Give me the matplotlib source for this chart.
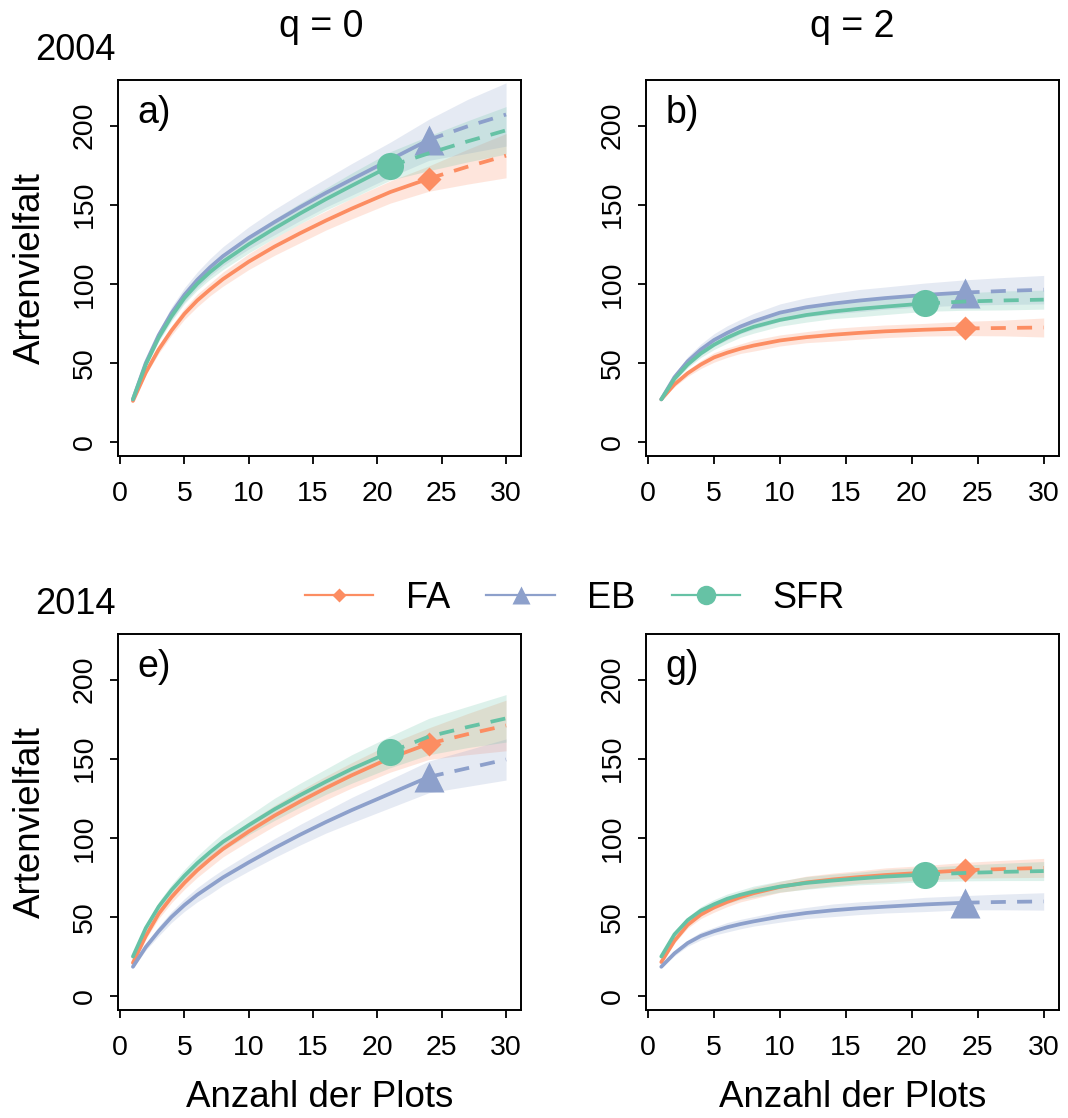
import matplotlib
matplotlib.use("Agg")
import matplotlib.pyplot as plt
from matplotlib.lines import Line2D

plt.rcParams['font.family'] = ['Liberation Sans', 'DejaVu Sans']

# sample sizes (number of plots) at which the curves are read
plots = [1, 2, 3, 4, 5, 6, 7, 8, 10, 12, 14, 16, 18, 21, 24, 27, 30]

groups = ['FA', 'EB', 'SFR']
obs_n = {'FA': 24, 'EB': 24, 'SFR': 21}
colors = {'FA': '#FC8D62', 'EB': '#8DA0CB', 'SFR': '#66C2A5'}
markers = {'FA': 'D', 'EB': '^', 'SFR': 'o'}

# 2004, q = 0
a_fa = [26, 44, 58.5, 70.5, 81, 89.5, 96.5, 103, 114, 123.5, 132, 140, 147.5, 158, 166.5, 174, 181]
a_eb = [27, 50, 67.5, 81.5, 93, 102.5, 110.5, 117.5, 129, 139, 148.5, 157.5, 166, 178.5, 191, 199.5, 207]
a_sfr = [27, 49, 66, 79.5, 91, 100, 107.5, 114, 125, 135, 144.5, 153.5, 162, 174.5, 182.5, 190, 197]
a_fa_ci = [0.5, 1.5, 2.5, 3, 3.5, 4, 4, 4.5, 5, 5.5, 6, 6, 6.5, 7, 8, 11, 14]
a_eb_ci = [0.5, 2, 3, 4, 4.5, 5, 5.5, 6, 7, 8, 8.5, 9, 10, 11, 13, 17, 20]
a_sfr_ci = [0.5, 1.5, 2.5, 3, 3.5, 4, 4.5, 5, 5.5, 6, 6.5, 7, 8, 9, 11, 13, 15]

# 2004, q = 2
b_fa = [27, 36.5, 43.5, 49, 53.5, 56.5, 59, 61, 64.2, 66.3, 67.8, 69, 70, 71, 71.8, 72.1, 72.4]
b_eb = [27, 41, 51, 58.5, 64.5, 69, 73, 76.3, 81.8, 85.2, 87.5, 89.4, 91, 93, 94.5, 95.5, 96.3]
b_sfr = [27, 40, 49, 56, 61.5, 66, 69.7, 72.8, 77.2, 80.3, 82.5, 84.2, 85.6, 87.6, 88.8, 89.5, 90]
b_fa_ci = [0.5, 1.5, 2, 2.5, 3, 3, 3, 3.5, 3.5, 3.5, 4, 4, 4, 4, 4.5, 5, 6]
b_eb_ci = [0.5, 2, 3, 3.5, 4, 4.5, 4.5, 5, 5.5, 6, 6.5, 7, 7, 7.5, 8, 8.5, 9]
b_sfr_ci = [0.5, 1.5, 2, 2.5, 3, 3.5, 3.5, 4, 4, 4.5, 4.5, 5, 5, 5, 5.5, 6, 6]

# 2014, q = 0
e_fa = [21, 38, 52, 62.5, 71.5, 79.5, 86.5, 93, 104, 114, 123, 131.5, 139.5, 150.5, 159.5, 165.5, 171]
e_eb = [18.5, 31, 41, 50, 57.5, 64, 69.5, 75, 84.5, 93.5, 102, 110, 117.5, 128, 138.5, 144, 149.5]
e_sfr = [25, 43, 56.5, 67, 76, 84, 91, 97.5, 108, 118, 127, 135.5, 143.5, 154.3, 164, 170, 175.5]
e_fa_ci = [0.5, 2, 3, 3.5, 4, 4.5, 5, 5, 6, 6.5, 7, 7.5, 8, 9, 10, 13, 16]
e_eb_ci = [0.5, 2, 3, 3.5, 4, 4.5, 5, 5, 5.5, 6, 6.5, 7, 8, 9, 10, 11.5, 13]
e_sfr_ci = [0.5, 2, 3, 3.5, 4, 4.5, 5, 5.5, 6, 7, 7.5, 8, 9, 10, 11.5, 13, 15]

# 2014, q = 2
g_fa = [21.5, 35, 45, 51.5, 56, 59.5, 62.5, 65, 69, 71.8, 73.7, 75.2, 76.5, 78, 79.5, 80.3, 81]
g_eb = [18.5, 27, 33.5, 38, 41, 43.5, 45.5, 47.2, 50.2, 52.5, 54.2, 55.5, 56.5, 57.9, 59, 59.5, 59.8]
g_sfr = [25, 39, 48, 54, 58, 61.5, 64, 66, 69.2, 71.5, 73, 74.3, 75.5, 76.8, 77.8, 78.5, 79]
g_fa_ci = [0.5, 1.5, 2, 2.5, 3, 3, 3, 3.5, 3.5, 4, 4, 4, 4.5, 4.5, 5, 5.5, 6]
g_eb_ci = [0.5, 1.5, 2, 2.5, 2.5, 3, 3, 3, 3.5, 3.5, 4, 4, 4, 4.5, 4.5, 5, 5.5]
g_sfr_ci = [0.5, 1.5, 2, 2.5, 3, 3, 3, 3.5, 3.5, 4, 4, 4, 4.5, 4.5, 5, 5.5, 6]

panels = {
    'a': ({'FA': a_fa, 'EB': a_eb, 'SFR': a_sfr}, {'FA': a_fa_ci, 'EB': a_eb_ci, 'SFR': a_sfr_ci}),
    'b': ({'FA': b_fa, 'EB': b_eb, 'SFR': b_sfr}, {'FA': b_fa_ci, 'EB': b_eb_ci, 'SFR': b_sfr_ci}),
    'e': ({'FA': e_fa, 'EB': e_eb, 'SFR': e_sfr}, {'FA': e_fa_ci, 'EB': e_eb_ci, 'SFR': e_sfr_ci}),
    'g': ({'FA': g_fa, 'EB': g_eb, 'SFR': g_sfr}, {'FA': g_fa_ci, 'EB': g_eb_ci, 'SFR': g_sfr_ci}),
}
marker_size = {'FA': 12, 'EB': 21, 'SFR': 19.5}

W, H = 1068, 1118
fig = plt.figure(figsize=(W / 100, H / 100), dpi=100)


def rect(left, top, width, height):
    return [left / W, 1 - (top + height) / H, width / W, height / H]


boxes = {
    'a': rect(118, 80, 403, 376),
    'b': rect(646, 80, 413, 376),
    'e': rect(118, 634, 403, 376),
    'g': rect(646, 634, 413, 376),
}

for key, (curves, cis) in panels.items():
    ax = fig.add_axes(boxes[key])
    for grp in groups:
        y = curves[grp]
        ci = cis[grp]
        lo = [v - c for v, c in zip(y, ci)]
        hi = [v + c for v, c in zip(y, ci)]
        ax.fill_between(plots, lo, hi, color=colors[grp], alpha=0.22, lw=0)
    for grp in groups:
        y = curves[grp]
        n = obs_n[grp]
        k = plots.index(n)
        c = colors[grp]
        ax.plot(plots[:k + 1], y[:k + 1], color=c, lw=2.7,
                solid_capstyle='round', solid_joinstyle='round')
        ax.plot(plots[k:], y[k:], color=c, lw=2.7, dashes=(4, 3))
        ax.plot([n], [y[k]], marker=markers[grp], ms=marker_size[grp],
                color=c, mec='none', ls='none')

    ax.set_xlim(-0.16, 31.16)
    ax.set_ylim(-8.8, 228.8)
    ax.set_xticks(range(0, 31, 5))
    ax.set_yticks(range(0, 201, 50))
    ax.tick_params(direction='out', length=5.8, width=1.3, labelsize=20.5)
    ax.tick_params(axis='x', pad=12)
    ax.tick_params(axis='y', pad=9)
    for lab in ax.get_yticklabels():
        lab.set_rotation(90)
        lab.set_va('center')
    for sp in ax.spines.values():
        sp.set_linewidth(1.4)
    ax.text(0.047, 0.912, key + ')', transform=ax.transAxes, fontsize=27,
            ha='left', va='center')
    if key in ('a', 'e'):
        ax.set_ylabel('Artenvielfalt', fontsize=26.5)
        ax.yaxis.set_label_coords(-0.173, 0.5)
    if key in ('e', 'g'):
        ax.set_xlabel('Anzahl der Plots', fontsize=26.5)
        ax.xaxis.set_label_coords(0.5, -0.185)

fig.text(321 / W, 1 - 37 / H, 'q = 0', fontsize=27, ha='center', va='baseline')
fig.text(852 / W, 1 - 37 / H, 'q = 2', fontsize=27, ha='center', va='baseline')
fig.text(75 / W, 1 - 60 / H, '2004', fontsize=26, ha='center', va='baseline')
fig.text(75 / W, 1 - 614 / H, '2014', fontsize=26, ha='center', va='baseline')

legend_ms = {'FA': 6.8, 'EB': 13, 'SFR': 14}
handles = [Line2D([], [], color=colors[g], lw=1.6, marker=markers[g],
                  ms=legend_ms[g], mec='none') for g in groups]
fig.legend(handles, groups, loc='center', bbox_to_anchor=(575 / W, 1 - 598 / H),
           ncol=3, frameon=False, fontsize=26, handlelength=1.9,
           handletextpad=0.9, columnspacing=1.0, borderpad=0)

fig.savefig('out.png', dpi=100)
